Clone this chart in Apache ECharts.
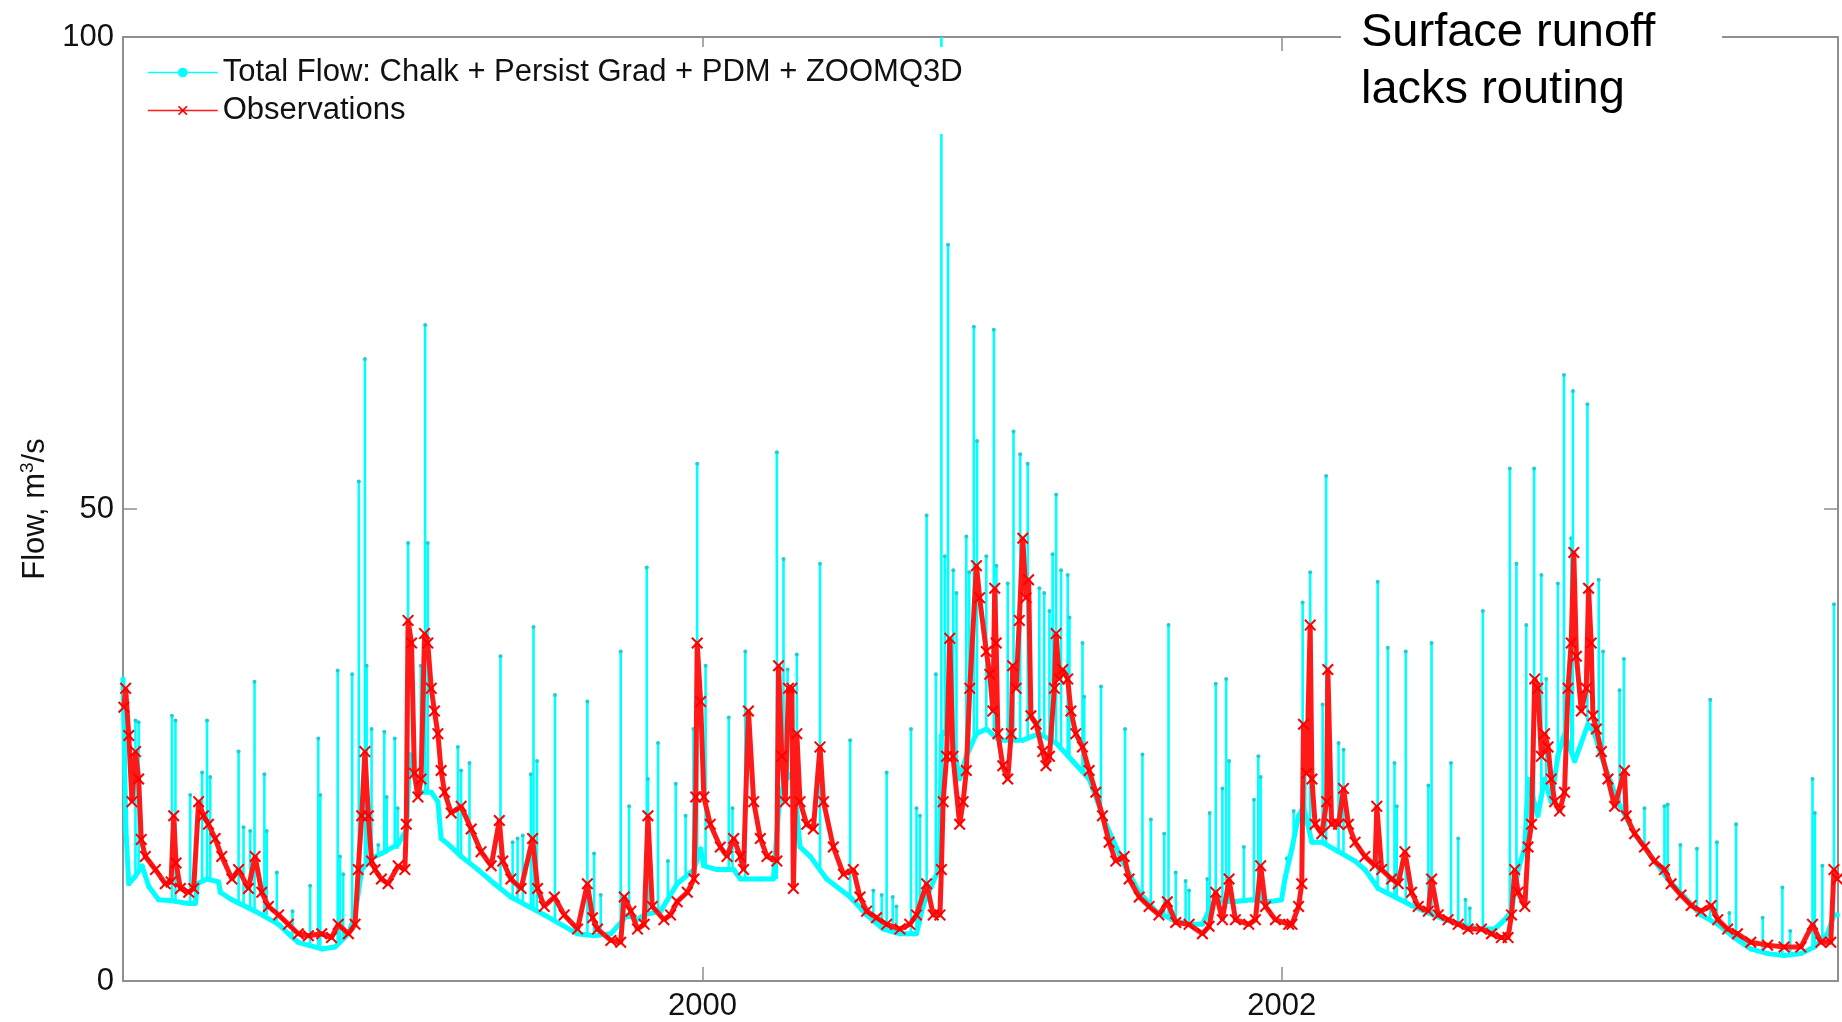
<!DOCTYPE html>
<html>
<head>
<meta charset="utf-8">
<script src="https://cdn.jsdelivr.net/npm/echarts@6/dist/echarts.min.js"></script>
<style>
  html, body { margin: 0; padding: 0; background: #fff; }
  #chart { width: 1842px; height: 1022px; }
</style>
</head>
<body>
<div id="chart"></div>
<script>
// x values are decimal years, flow in m3/s
const observed = [
  [1998.003,29.0],[1998.009,31.0],[1998.020,26.0],[1998.031,19.0],[1998.043,24.3],[1998.054,21.4],[1998.063,15.0],[1998.077,13.2],
  [1998.112,11.8],[1998.146,10.3],[1998.166,10.5],[1998.175,17.5],[1998.183,12.5],[1998.198,9.8],[1998.227,9.4],[1998.244,9.8],
  [1998.261,19.0],[1998.278,17.5],[1998.295,16.6],[1998.318,15.1],[1998.341,13.2],[1998.376,10.8],[1998.399,11.8],[1998.433,9.8],
  [1998.456,13.2],[1998.479,9.4],[1998.502,7.9],[1998.537,7.0],[1998.571,6.0],[1998.605,5.0],[1998.640,4.8],[1998.686,5.0],
  [1998.720,4.6],[1998.743,6.0],[1998.778,5.0],[1998.801,6.0],[1998.812,11.8],[1998.824,17.5],[1998.835,24.3],[1998.847,17.5],
  [1998.858,12.7],[1998.870,11.8],[1998.892,10.8],[1998.915,10.3],[1998.950,12.2],[1998.973,11.8],[1998.978,16.6],[1998.984,38.2],
  [1998.996,35.8],[1999.006,22.0],[1999.018,19.5],[1999.029,21.4],[1999.041,36.8],[1999.052,35.8],[1999.064,31.0],[1999.075,28.6],
  [1999.087,26.2],[1999.098,22.3],[1999.110,20.0],[1999.133,17.8],[1999.167,18.5],[1999.202,16.1],[1999.236,13.7],[1999.271,12.2],
  [1999.299,17.0],[1999.311,12.7],[1999.339,10.8],[1999.374,9.8],[1999.414,15.1],[1999.431,9.8],[1999.454,7.9],[1999.489,8.9],
  [1999.523,7.0],[1999.569,5.5],[1999.603,10.3],[1999.621,6.7],[1999.638,5.5],[1999.684,4.3],[1999.718,4.1],[1999.730,8.9],
  [1999.753,7.4],[1999.776,5.5],[1999.799,6.0],[1999.812,17.5],[1999.827,7.9],[1999.867,6.5],[1999.890,7.0],[1999.913,8.4],
  [1999.948,9.4],[1999.971,10.8],[1999.977,19.5],[1999.982,35.8],[1999.994,29.6],[2000.005,19.5],[2000.027,16.6],[2000.062,14.2],
  [2000.085,13.2],[2000.108,15.1],[2000.131,13.2],[2000.142,11.8],[2000.159,28.6],[2000.177,19.0],[2000.200,15.1],[2000.223,13.2],
  [2000.257,12.7],[2000.263,33.4],[2000.274,23.8],[2000.286,19.0],[2000.297,31.0],[2000.309,31.0],[2000.314,9.8],[2000.326,26.2],
  [2000.337,19.0],[2000.360,16.6],[2000.383,16.1],[2000.406,24.8],[2000.418,19.0],[2000.452,14.2],[2000.487,11.3],[2000.521,11.8],
  [2000.544,8.9],[2000.567,7.4],[2000.601,6.7],[2000.636,6.0],[2000.682,5.5],[2000.716,6.0],[2000.739,7.0],[2000.774,10.3],
  [2000.797,7.0],[2000.820,7.0],[2000.825,11.8],[2000.831,19.0],[2000.843,23.8],[2000.854,36.3],[2000.865,23.8],[2000.888,16.6],
  [2000.900,19.0],[2000.911,22.3],[2000.923,31.0],[2000.946,44.0],[2000.957,40.6],[2000.980,34.9],[2000.992,32.5],[2001.003,28.6],
  [2001.009,41.6],[2001.014,35.8],[2001.020,26.2],[2001.037,22.8],[2001.054,21.4],[2001.066,26.2],[2001.071,33.4],[2001.083,31.0],
  [2001.094,38.2],[2001.106,46.9],[2001.117,40.6],[2001.126,42.5],[2001.134,28.1],[2001.152,27.2],[2001.175,24.3],[2001.186,22.8],
  [2001.198,23.8],[2001.215,31.0],[2001.221,36.8],[2001.232,32.0],[2001.244,33.0],[2001.261,32.0],[2001.272,28.6],[2001.289,26.2],
  [2001.312,24.8],[2001.335,22.3],[2001.358,20.0],[2001.381,17.5],[2001.404,14.7],[2001.427,12.7],[2001.456,13.2],[2001.473,10.8],
  [2001.508,8.9],[2001.542,7.9],[2001.576,7.0],[2001.605,8.4],[2001.634,6.2],[2001.680,6.0],[2001.726,5.0],[2001.749,5.8],
  [2001.772,9.4],[2001.795,6.5],[2001.818,10.8],[2001.840,6.5],[2001.886,6.0],[2001.909,6.5],[2001.927,12.2],[2001.944,7.9],
  [2001.978,6.5],[2002.024,6.0],[2002.035,6.0],[2002.058,7.9],[2002.069,10.3],[2002.075,27.2],[2002.086,22.0],[2002.098,37.7],
  [2002.104,21.4],[2002.115,16.6],[2002.138,15.6],[2002.155,19.0],[2002.159,33.0],[2002.172,16.6],[2002.196,16.6],[2002.213,20.4],
  [2002.230,16.6],[2002.253,14.7],[2002.287,13.2],[2002.322,12.2],[2002.328,18.5],[2002.345,11.8],[2002.379,10.8],[2002.402,10.3],
  [2002.425,13.7],[2002.448,9.4],[2002.471,7.9],[2002.506,7.4],[2002.517,10.8],[2002.540,7.0],[2002.574,6.5],[2002.609,6.0],
  [2002.643,5.5],[2002.689,5.5],[2002.724,5.0],[2002.758,4.6],[2002.781,4.6],[2002.793,7.0],[2002.804,11.8],[2002.816,9.4],
  [2002.839,7.9],[2002.850,14.2],[2002.862,16.6],[2002.873,32.0],[2002.884,31.0],[2002.896,23.8],[2002.907,26.2],[2002.919,24.8],
  [2002.930,21.4],[2002.942,19.0],[2002.959,18.0],[2002.976,20.0],[2002.988,31.0],[2002.999,35.8],[2003.008,45.4],[2003.017,34.4],
  [2003.034,28.6],[2003.051,31.0],[2003.059,41.6],[2003.068,35.8],[2003.074,28.1],[2003.086,26.7],[2003.103,24.3],[2003.126,21.4],
  [2003.149,18.5],[2003.183,22.3],[2003.189,17.5],[2003.218,15.6],[2003.252,14.2],[2003.286,12.7],[2003.321,11.8],[2003.344,10.3],
  [2003.378,9.1],[2003.413,8.0],[2003.447,7.4],[2003.482,8.0],[2003.505,6.5],[2003.539,5.5],[2003.573,5.0],[2003.619,4.1],
  [2003.677,3.8],[2003.734,3.6],[2003.792,3.6],[2003.832,6.0],[2003.861,4.1],[2003.895,4.1],[2003.906,11.8],[2003.918,10.8]
]

// modelled total flow, slow part
const modelBase = [
  [1998.000,32.0],[1998.010,16.0],[1998.020,10.3],[1998.040,11.0],[1998.066,12.2],[1998.089,10.0],[1998.123,8.6],[1998.169,8.5],
  [1998.227,8.2],[1998.250,8.2],[1998.256,10.3],[1998.290,10.8],[1998.330,10.5],[1998.336,9.4],[1998.376,8.6],[1998.456,7.4],
  [1998.537,6.0],[1998.571,5.0],[1998.605,4.1],[1998.686,3.4],[1998.732,3.6],[1998.778,5.0],[1998.801,7.0],[1998.824,11.8],
  [1998.858,13.0],[1998.892,13.5],[1998.950,14.5],[1998.978,16.0],[1998.990,24.0],[1999.018,20.0],[1999.064,20.0],[1999.087,19.0],
  [1999.098,15.1],[1999.133,14.2],[1999.167,13.2],[1999.225,11.8],[1999.282,10.3],[1999.339,8.9],[1999.454,7.0],[1999.569,5.0],
  [1999.626,4.8],[1999.684,5.0],[1999.741,7.0],[1999.776,6.5],[1999.799,7.0],[1999.856,7.4],[1999.913,10.3],[1999.971,11.8],
  [1999.994,14.0],[2000.005,12.2],[2000.050,11.8],[2000.108,11.8],[2000.131,10.8],[2000.200,10.8],[2000.245,10.8],[2000.263,18.0],
  [2000.280,21.0],[2000.309,22.0],[2000.326,18.0],[2000.337,14.2],[2000.372,13.2],[2000.429,10.8],[2000.510,8.9],[2000.567,7.0],
  [2000.624,5.5],[2000.682,5.0],[2000.739,5.0],[2000.762,8.0],[2000.790,10.0],[2000.818,12.0],[2000.825,26.0],[2000.854,27.0],
  [2000.888,21.4],[2000.911,23.8],[2000.946,26.2],[2000.980,26.7],[2001.025,25.5],[2001.106,25.5],[2001.163,26.2],[2001.221,25.2],
  [2001.278,23.3],[2001.335,21.4],[2001.393,16.6],[2001.450,12.7],[2001.508,9.4],[2001.565,7.4],[2001.622,6.5],[2001.680,6.0],
  [2001.726,6.0],[2001.749,7.5],[2001.772,8.5],[2001.829,8.4],[2001.898,8.6],[2001.956,8.4],[2001.999,8.6],[2002.012,11.0],
  [2002.035,14.0],[2002.058,17.5],[2002.075,18.5],[2002.104,14.7],[2002.138,14.7],[2002.196,13.7],[2002.253,12.7],[2002.287,11.8],
  [2002.333,9.8],[2002.391,8.9],[2002.448,8.0],[2002.506,7.2],[2002.563,6.5],[2002.620,6.0],[2002.678,5.5],[2002.735,5.5],
  [2002.770,6.5],[2002.793,7.4],[2002.816,11.8],[2002.839,14.2],[2002.850,21.4],[2002.884,17.5],[2002.907,21.4],[2002.930,19.0],
  [2002.953,23.8],[2002.976,26.2],[2003.011,23.3],[2003.057,27.2],[2003.080,26.2],[2003.103,23.8],[2003.160,19.0],[2003.218,15.6],
  [2003.275,13.2],[2003.332,10.8],[2003.390,8.9],[2003.447,7.0],[2003.505,6.0],[2003.562,4.6],[2003.619,3.4],[2003.677,2.9],
  [2003.734,2.7],[2003.792,2.9],[2003.838,3.6],[2003.884,5.0],[2003.906,7.0],[2003.918,7.0]
]

// one-day runoff spikes: [year, flow before, peak flow]
const modelSpikes = [
  [1998.043,11,27.6],[1998.054,11.5,27.4],[1998.169,8.5,28.1],[1998.181,8.5,27.6],[1998.232,8.2,19.7],[1998.273,10.5,22.1],
  [1998.290,10.8,27.6],[1998.301,10.8,21.6],[1998.399,8.3,24.3],[1998.416,8.0,16.3],[1998.439,7.7,15.9],[1998.454,7.4,31.7],
  [1998.488,7.0,21.9],[1998.496,7.0,15.9],[1998.531,6.2,11.5],[1998.585,4.8,7.4],[1998.646,3.5,10.1],[1998.674,3.4,25.7],
  [1998.681,3.4,19.7],[1998.741,3.8,32.9],[1998.749,4.0,13.2],[1998.760,4.5,11.3],[1998.791,6.0,32.5],[1998.814,9.0,52.9],
  [1998.835,12.0,65.9],[1998.841,12.5,33.4],[1998.858,13.0,26.7],[1998.881,13.5,14.4],[1998.902,13.5,26.4],[1998.910,13.5,19.5],
  [1998.938,14.0,25.7],[1998.948,14.0,18.3],[1998.984,16,46.4],[1999.028,20,33.4],[1999.043,20,69.5],[1999.052,20,46.4],
  [1999.156,13.5,24.8],[1999.167,13.2,22.3],[1999.196,12.5,23.1],[1999.303,10.0,34.4],[1999.345,8.9,14.7],[1999.362,8.6,15.1],
  [1999.380,8.3,15.4],[1999.408,7.8,21.9],[1999.417,7.7,37.5],[1999.429,7.5,23.3],[1999.491,6.4,30.3],[1999.603,4.9,29.6],
  [1999.626,4.8,13.5],[1999.649,4.8,9.1],[1999.718,6.0,34.9],[1999.747,7.0,18.5],[1999.808,7.0,43.8],[1999.812,7.0,21.4],
  [1999.847,7.3,25.2],[1999.881,8.5,12.7],[1999.908,10,20.9],[1999.942,11,17.5],[1999.969,11.8,26.7],[1999.982,12.5,54.8],
  [2000.011,12.2,33.4],[2000.091,11.8,27.9],[2000.104,11.8,18.3],[2000.148,10.8,34.9],[2000.257,10.8,56.0],[2000.280,21.0,44.7],
  [2000.294,21.5,33.0],[2000.326,18.0,34.6],[2000.406,11.5,44.2],[2000.510,8.9,25.5],[2000.590,6.5,9.6],[2000.619,5.6,9.1],
  [2000.636,5.4,22.1],[2000.657,5.2,8.9],[2000.670,5.0,7.9],[2000.720,5.0,26.7],[2000.739,5.0,18.3],[2000.751,6.0,17.5],
  [2000.774,8.5,49.3],[2000.806,11.0,32.5],[2000.825,12.0,101],[2000.837,26.0,45.0],[2000.848,27.0,78.0],[2000.866,24.0,43.5],
  [2000.877,22.0,41.1],[2000.911,23.8,47.1],[2000.921,24.5,43.3],[2000.937,25.5,69.3],[2000.948,26.2,57.2],[2000.980,26.7,45.0],
  [2001.006,26.5,69.0],[2001.015,26.0,44.0],[2001.054,25.5,42.1],[2001.074,25.5,58.2],[2001.097,25.5,55.8],[2001.123,25.7,54.8],
  [2001.163,26.2,41.6],[2001.180,26.0,41.1],[2001.198,25.8,39.2],[2001.209,25.5,45.2],[2001.221,25.2,51.5],[2001.238,24.8,43.5],
  [2001.261,24.0,43.0],[2001.267,23.8,38.5],[2001.312,22.0,35.8],[2001.318,22.0,30.1],[2001.376,18.0,31.2],[2001.459,12.2,26.7],
  [2001.519,9.0,24.0],[2001.548,8.0,17.1],[2001.594,7.0,15.6],[2001.609,6.8,37.7],[2001.634,6.5,11.5],[2001.668,6.1,10.6],
  [2001.680,6.0,9.6],[2001.743,7.0,10.8],[2001.751,7.5,17.8],[2001.772,8.5,31.5],[2001.795,8.5,20.4],[2001.808,8.5,32.0],
  [2001.818,8.5,23.3],[2001.869,8.5,14.2],[2001.904,8.6,19.2],[2001.919,8.6,23.8],[2001.927,8.5,21.6],[2002.018,11.5,13.0],
  [2002.041,14.5,18.0],[2002.072,18.3,40.1],[2002.081,17.5,25.0],[2002.098,15.5,43.3],[2002.141,14.7,29.3],[2002.153,14.5,53.5],
  [2002.196,13.7,25.2],[2002.213,13.5,24.5],[2002.331,10.0,42.3],[2002.366,9.2,35.3],[2002.389,8.9,23.1],[2002.397,8.8,18.5],
  [2002.428,8.3,34.9],[2002.506,7.2,20.7],[2002.517,7.1,35.8],[2002.584,6.3,23.1],[2002.609,6.1,15.1],[2002.634,6.0,8.6],
  [2002.649,5.8,7.7],[2002.694,5.5,39.2],[2002.787,7.2,54.3],[2002.810,10.5,44.2],[2002.844,15.0,37.7],[2002.871,19.0,54.3],
  [2002.896,19.0,43.0],[2002.913,21.0,32.0],[2002.953,23.8,42.1],[2002.974,26.0,64.2],[2002.999,25.0,46.9],[2003.005,24.0,62.5],
  [2003.055,27.0,61.1],[2003.094,25.0,42.5],[2003.109,23.5,34.9],[2003.166,18.8,30.8],[2003.181,18.0,34.1],[2003.252,14.2,18.3],
  [2003.321,11.2,18.5],[2003.332,10.8,18.7],[2003.376,9.3,14.4],[2003.433,7.4,14.0],[2003.479,6.4,29.8],[2003.502,6.0,14.7],
  [2003.545,5.0,7.2],[2003.568,4.5,16.6],[2003.660,3.0,6.7],[2003.728,2.7,9.9],[2003.755,2.8,5.3],[2003.832,3.6,21.4],
  [2003.840,3.7,17.8],[2003.866,4.3,12.2],[2003.906,7.0,39.9]
]

const yearTicks = [2000, 2002]

const FONT = '"Liberation Sans", Arial, Helvetica, sans-serif'
const AXIS_GREY = '#8f8f8f'
const CROSS = 'path://M0,1.2L1.2,0L5,3.8L8.8,0L10,1.2L6.2,5L10,8.8L8.8,10L5,6.2L1.2,10L0,8.8L3.8,5Z'
const SIM_NAME = 'Total Flow: Chalk + Persist Grad + PDM + ZOOMQ3D'
const OBS_NAME = 'Observations'

const chart = echarts.init(document.getElementById('chart'))

const xCommon = {
  type: 'value',
  min: 1998,
  max: 2003.92,
  interval: 2,
  splitLine: { show: false },
  axisLine: { show: true, onZero: false, lineStyle: { color: AXIS_GREY, width: 2 } },
  axisTick: { show: true, inside: true, length: 14, lineStyle: { color: AXIS_GREY, width: 1.5 } }
}
const yCommon = {
  type: 'value',
  min: 0,
  max: 100,
  interval: 50,
  splitLine: { show: false },
  axisLine: { show: true, onZero: false, lineStyle: { color: AXIS_GREY, width: 2 } },
  axisTick: { show: true, inside: true, length: 14, lineStyle: { color: AXIS_GREY, width: 1.5 } }
}

const option = {
  animation: false,
  backgroundColor: '#fff',
  grid: { left: 123, right: 4, top: 37, bottom: 40 },
  legend: {
    data: [SIM_NAME, OBS_NAME],
    orient: 'vertical',
    left: 137,
    top: 47,
    padding: [10, 10, 8, 10],
    itemGap: 7,
    itemWidth: 70,
    itemHeight: 12,
    backgroundColor: '#fff',
    lineStyle: { width: 1.5 },
    textStyle: { fontFamily: FONT, fontSize: 31, color: '#111', lineHeight: 31 }
  },
  xAxis: [
    Object.assign({}, xCommon, {
      position: 'bottom',
      axisLabel: {
        fontFamily: FONT, fontSize: 31, color: '#111', margin: 10,
        showMinLabel: false, showMaxLabel: false,
        formatter: v => (yearTicks.indexOf(v) >= 0 ? String(v) : '')
      }
    }),
    Object.assign({}, xCommon, { position: 'top', axisLabel: { show: false } })
  ],
  yAxis: [
    Object.assign({}, yCommon, {
      position: 'left',
      name: '{t|Flow, m}{s|3}{t|/s}',
      nameLocation: 'middle',
      nameGap: 61,
      nameTextStyle: {
        rich: {
          t: { fontFamily: FONT, fontSize: 31, color: '#111', lineHeight: 36 },
          s: { fontFamily: FONT, fontSize: 19, color: '#111', verticalAlign: 'top', lineHeight: 20 }
        }
      },
      axisLabel: { fontFamily: FONT, fontSize: 31, color: '#111', margin: 9 }
    }),
    Object.assign({}, yCommon, { position: 'right', axisLabel: { show: false } })
  ],
  series: [
    {
      name: SIM_NAME + ' spikes',
      type: 'custom',
      clip: true,
      z: 1,
      data: modelSpikes,
      renderItem: (params, api) => {
        const lo = api.coord([api.value(0), api.value(1)])
        const hi = api.coord([api.value(0), api.value(2)])
        return {
          type: 'group',
          children: [
            { type: 'line', shape: { x1: lo[0], y1: lo[1], x2: hi[0], y2: hi[1] }, style: { stroke: '#00ffff', lineWidth: 2.6 } },
            { type: 'circle', shape: { cx: hi[0], cy: hi[1], r: 2 }, style: { fill: '#1fcfcf' } }
          ]
        }
      }
    },
    {
      name: SIM_NAME,
      type: 'line',
      z: 2,
      data: modelBase,
      symbol: 'circle',
      symbolSize: 5,
      itemStyle: { color: '#00ffff' },
      lineStyle: { color: '#00ffff', width: 5 }
    },
    {
      name: OBS_NAME,
      type: 'line',
      z: 3,
      data: observed,
      symbol: CROSS,
      symbolSize: 12,
      itemStyle: { color: '#ff0000' },
      lineStyle: { color: '#ff1a1a', width: 5 }
    }
  ],
  graphic: [
    { type: 'rect', z: 100, shape: { x: 1341, y: 18, width: 381, height: 34 }, style: { fill: '#fff' } },
    {
      type: 'text', z: 101, x: 1361, y: 5,
      style: { text: 'Surface runoff\nlacks routing', font: '47px ' + FONT, lineHeight: 57, fill: '#000' }
    }
  ]
}

chart.setOption(option)
</script>
</body>
</html>
